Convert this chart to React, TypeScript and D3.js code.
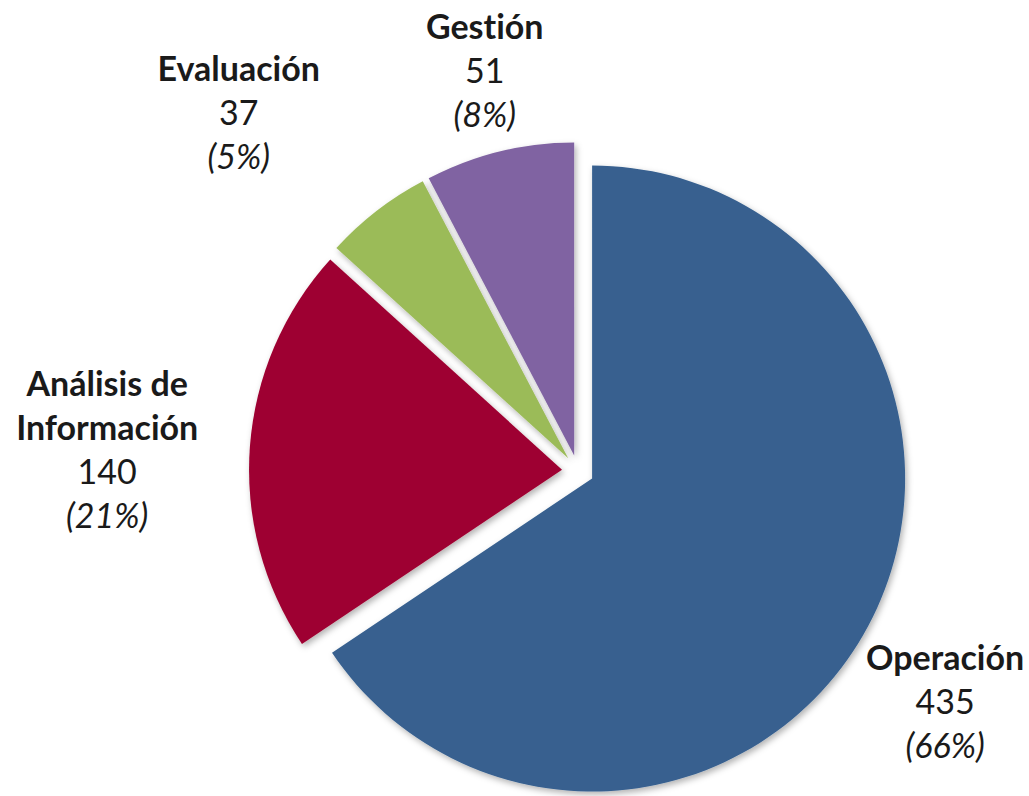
import React from 'react';
import * as d3 from 'd3';

const categories = ["Operación", "Análisis de Información", "Evaluación", "Gestión"];
const values = [435, 140, 37, 51];
const percents = ["66%", "21%", "5%", "8%"];
const labelLines = [["Operación"], ["Análisis de", "Información"], ["Evaluación"], ["Gestión"]];
const colors = ["#37608F", "#9E0030", "#9BBB59", "#8064A2"];

const W = 1029;
const H = 796;
const cx = 578;
const cy = 471;
const R = 313;
const explode = 16;
const labelR = 440;
const lineH = 44;
// manual nudges so the labels sit where the original put them
const labelNudge: [number, number][] = [[-21, 27], [-32, 14], [-70, -7], [12, 30]];

const App: React.FC = () => {
  const pie = d3.pie<number>().sort(null).value(d => d);
  const arcs = pie(values);
  const arc = d3.arc<d3.PieArcDatum<number>>().innerRadius(0).outerRadius(R);

  return (
    <>
      <style>{`body{margin:0}`}</style>
      <svg width={W} height={H} style={{ display: 'block', background: '#fff' }}>
        <defs>
          <filter id="shadow" x="-20%" y="-20%" width="140%" height="140%">
            <feDropShadow dx="2" dy="3" stdDeviation="3" floodColor="#000" floodOpacity="0.3" />
          </filter>
        </defs>
        <g transform={`translate(${cx},${cy})`}>
          {arcs.map((a, i) => {
            const mid = (a.startAngle + a.endAngle) / 2;
            const ox = Math.sin(mid) * explode;
            const oy = -Math.cos(mid) * explode;
            return (
              <path key={categories[i]} d={arc(a) || ''} fill={colors[i]}
                transform={`translate(${ox},${oy})`} filter="url(#shadow)" />
            );
          })}
        </g>
        <g fontFamily="Lato, 'Open Sans', sans-serif" fontSize={34} fill="#1a1a1a" textAnchor="middle"
          style={{ fontVariantLigatures: 'none', fontFeatureSettings: '"liga" 0, "clig" 0' }}>
          {arcs.map((a, i) => {
            const mid = (a.startAngle + a.endAngle) / 2;
            const x = cx + Math.sin(mid) * labelR + labelNudge[i][0];
            const yc = cy - Math.cos(mid) * labelR + labelNudge[i][1];
            const lines = [
              ...labelLines[i].map(t => ({ t, w: 'bold', s: 'normal' })),
              { t: String(values[i]), w: 'normal', s: 'normal' },
              { t: `(${percents[i]})`, w: 'normal', s: 'italic' },
            ];
            const n = lines.length;
            return (
              <g key={categories[i]}>
                {lines.map((l, j) => (
                  <text key={j} x={x} y={yc + (j - (n - 1) / 2) * lineH + 9}
                    fontWeight={l.w} fontStyle={l.s}>{l.t}</text>
                ))}
              </g>
            );
          })}
        </g>
      </svg>
    </>
  );
};

export default App;
